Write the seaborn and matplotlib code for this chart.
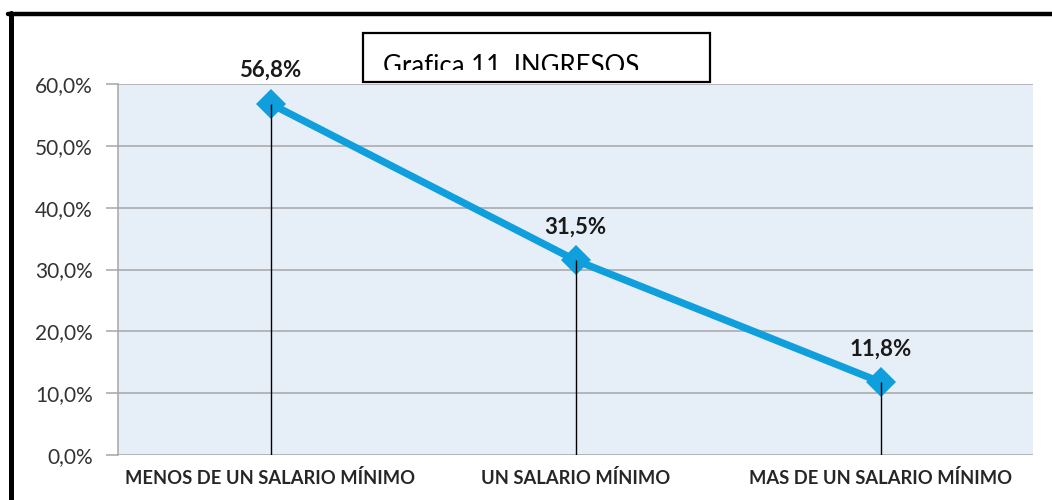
import matplotlib
matplotlib.use("Agg")
import matplotlib.pyplot as plt
import seaborn as sns
import pandas as pd
from matplotlib.ticker import FuncFormatter, MultipleLocator
from matplotlib.lines import Line2D
from matplotlib.patches import Rectangle
from matplotlib.transforms import Bbox, TransformedBbox

categories = ["MENOS DE UN SALARIO MÍNIMO", "UN SALARIO MÍNIMO", "MAS DE UN SALARIO MÍNIMO"]
values = [56.8, 31.5, 11.8]
value_labels = ["56,8%", "31,5%", "11,8%"]
title = "Grafica 11. INGRESOS"

sns.set_theme(style="white")
plt.rcParams['font.family'] = ['Lato', 'DejaVu Sans']

W, H = 1052, 500
fig = plt.figure(figsize=(W / 100, H / 100), dpi=100)
fig.patch.set_facecolor("white")

ax = fig.add_axes([118 / W, 1 - 455 / H, (1033 - 118) / W, (455 - 84) / H])
ax.set_facecolor("#E6EEF8")

df = pd.DataFrame({"cat": categories, "val": values})
idx = list(range(len(categories)))

ax.set_axisbelow(True)
ax.yaxis.grid(True, color="#A6A6A6", linewidth=1.1)
ax.xaxis.grid(False)

sns.lineplot(data=df, x="cat", y="val", ax=ax, color="#0E9FDC", linewidth=5.2,
             marker="D", markersize=15.5, markeredgewidth=0, sort=False, zorder=3)

ax.vlines(idx, 0, values, color="black", linewidth=1.0, zorder=4)

for i, (v, lab) in enumerate(zip(values, value_labels)):
    ax.annotate(lab, (i, v), xytext=(0, 24), textcoords="offset points",
                ha="center", va="center", fontsize=16, fontweight="bold",
                color="#1A1A1A", annotation_clip=False)

ax.set_xlim(-0.5, 2.5)
ax.set_ylim(0, 60)
ax.yaxis.set_major_locator(MultipleLocator(10))
ax.yaxis.set_major_formatter(FuncFormatter(lambda v, p: f"{v:.1f}%".replace(".", ",")))
ax.set_xlabel("")
ax.set_ylabel("")

for s in ["top", "right", "bottom"]:
    ax.spines[s].set_visible(False)
ax.spines["left"].set_color("#A6A6A6")
ax.spines["left"].set_linewidth(1.1)

ax.tick_params(axis="y", which="major", left=True, length=9, width=1.1, color="#A6A6A6",
               labelsize=15, labelcolor="#333333", pad=9, direction="out")
ax.tick_params(axis="x", bottom=False, labelsize=13.2, labelcolor="#262626", pad=4)
for t in ax.get_xticklabels():
    t.set_fontweight("bold")

# title box
bx0, bx1, by0, by1 = 363, 710, 33, 82
fig.patches.append(Rectangle((bx0 / W, 1 - by1 / H), (bx1 - bx0) / W, (by1 - by0) / H,
                             transform=fig.transFigure, facecolor="white",
                             edgecolor="black", linewidth=1.6, zorder=1))
tt = fig.text(383 / W, 1 - 74 / H, title, fontsize=18.5, color="black",
              ha="left", va="baseline", zorder=2)
clip = TransformedBbox(Bbox([[bx0 / W, 1 - 70 / H], [bx1 / W, 1 - by0 / H]]), fig.transFigure)
tt.set_clip_box(clip)
tt.set_clip_on(True)

# outer frame (top and left)
fig.lines.append(Line2D([8 / W, 1.0], [1 - 14 / H, 1 - 14 / H], transform=fig.transFigure,
                        color="black", linewidth=3.2))
fig.lines.append(Line2D([10.5 / W, 10.5 / W], [0, 1 - 12.5 / H], transform=fig.transFigure,
                        color="black", linewidth=3.6))

fig.savefig("out.png", dpi=100, facecolor="white")
